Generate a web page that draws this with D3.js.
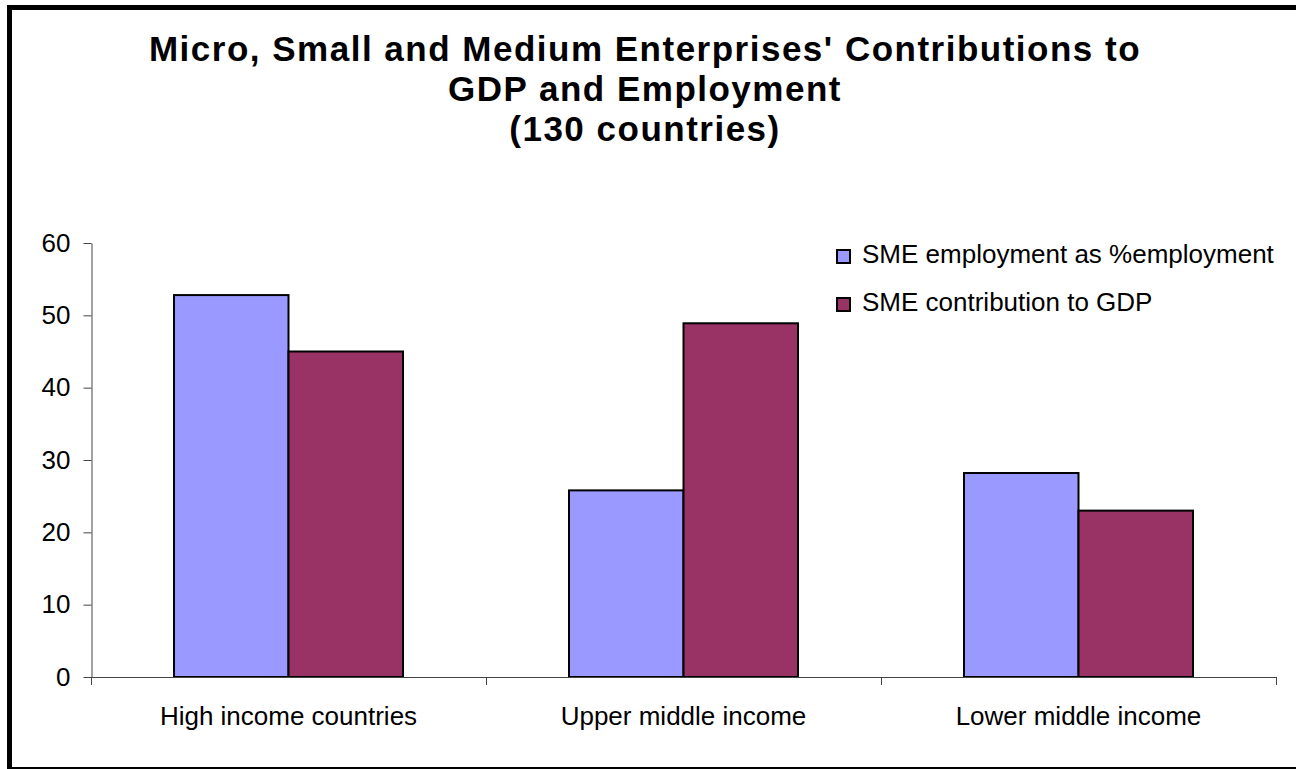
<!DOCTYPE html>
<html>
<head>
<meta charset="utf-8">
<script src="https://cdn.jsdelivr.net/npm/d3@7"></script>
<style>
  body { margin: 0; background: #fff; }
  svg { display: block; font-family: "Liberation Sans", Arial, sans-serif; }
</style>
</head>
<body>
<svg id="chart" width="1296" height="769"></svg>
<script>
// data
const categories = ['High income countries', 'Upper middle income', 'Lower middle income'];
const seriesNames = ['SME employment as %employment', 'SME contribution to GDP'];
const employment = [52.8, 25.8, 28.2];
const gdp = [45, 48.9, 23];
const yTicks = [0, 10, 20, 30, 40, 50, 60];
const titleLines = ["Micro, Small and Medium Enterprises' Contributions to", 'GDP and Employment', '(130 countries)'];

const colors = {
  'SME employment as %employment': '#9999FF',
  'SME contribution to GDP': '#993366'
};

const svg = d3.select('#chart');

// outer frame (chart area border, cut at right/bottom like the source)
svg.append('rect')
  .attr('x', 9.5).attr('y', 7.5)
  .attr('width', 1300).attr('height', 762)
  .attr('fill', '#fff')
  .attr('stroke', '#000')
  .attr('stroke-width', 5);

// title
svg.append('g').selectAll('text')
  .data(titleLines)
  .join('text')
  .attr('x', 645)
  .attr('y', (d, i) => 61 + i * 40)
  .attr('text-anchor', 'middle')
  .style('font-size', '35px')
  .style('font-weight', 'bold')
  .style('letter-spacing', '1.5px')
  .text(d => d);

let plot = {left: 91, right: 1276, top: 243, bottom: 677};

let y = d3.scaleLinear().domain([0, 60]).range([plot.bottom, plot.top]);
let x0 = d3.scaleBand().domain(categories).range([plot.left, plot.right]).padding(0);
let x1 = d3.scaleBand().domain(seriesNames).range([0, x0.bandwidth()]).paddingInner(0).paddingOuter(0.725);

let rows = categories.map((c, i) => ({cat: c, values: [
  {key: seriesNames[0], value: employment[i]},
  {key: seriesNames[1], value: gdp[i]}
]}));

// bars
svg.append('g').selectAll('g')
  .data(rows)
  .join('g')
  .attr('transform', d => `translate(${x0(d.cat)},0)`)
  .selectAll('rect')
  .data(d => d.values)
  .join('rect')
  .attr('x', d => x1(d.key))
  .attr('y', d => y(d.value))
  .attr('width', x1.bandwidth())
  .attr('height', d => y(0) - y(d.value))
  .attr('fill', d => colors[d.key])
  .attr('stroke', '#000')
  .attr('stroke-width', 2);

// y axis
let yAxis = svg.append('g')
  .attr('transform', `translate(${plot.left + 0.5},0)`)
  .call(d3.axisLeft(y).tickValues(yTicks).tickSize(8).tickSizeOuter(0).tickPadding(13));
yAxis.select('.domain').attr('stroke', '#444');
yAxis.selectAll('.tick line').attr('stroke', '#444');
yAxis.selectAll('.tick text')
  .style('font-size', '26px')
  .style('font-family', '"Liberation Sans", Arial, sans-serif')
  .attr('fill', '#000');

// x axis: line, boundary ticks, category labels
let xg = svg.append('g');
xg.append('line')
  .attr('x1', plot.left).attr('x2', plot.right)
  .attr('y1', y(0) + 0.5).attr('y2', y(0) + 0.5)
  .attr('stroke', '#444');
let bounds = categories.map(c => x0(c)).concat([x0.range()[1]]);
xg.selectAll('.bt')
  .data(bounds)
  .join('line')
  .attr('class', 'bt')
  .attr('x1', d => d + 0.5).attr('x2', d => d + 0.5)
  .attr('y1', y(0)).attr('y2', y(0) + 8)
  .attr('stroke', '#444');
xg.selectAll('text')
  .data(categories)
  .join('text')
  .attr('x', d => x0(d) + x0.bandwidth() / 2)
  .attr('y', 725)
  .attr('text-anchor', 'middle')
  .style('font-size', '26px')
  .text(d => d);

// legend
let legend = svg.append('g').selectAll('g')
  .data(seriesNames)
  .join('g')
  .attr('transform', (d, i) => `translate(837,${250 + i * 48})`);
legend.append('rect')
  .attr('width', 13).attr('height', 13)
  .attr('fill', d => colors[d])
  .attr('stroke', '#000')
  .attr('stroke-width', 2);
legend.append('text')
  .attr('x', 25)
  .attr('y', 13)
  .style('font-size', '26px')
  .text(d => d);
</script>
</body>
</html>
